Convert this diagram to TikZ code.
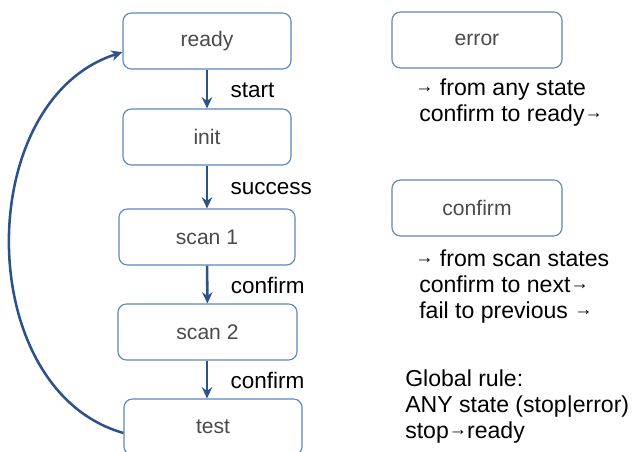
\documentclass[tikz,border=0pt]{standalone}
\usepackage{fontspec}
\setmainfont{Liberation Sans}
\usepackage{tikz}
\usetikzlibrary{arrows.meta,positioning}
\definecolor{statedraw}{HTML}{5B88BD}
\definecolor{flowblue}{HTML}{2B5289}
\definecolor{statetext}{HTML}{4A4A4A}
\tikzset{
  state/.style={draw=statedraw, rounded corners=6pt, align=center, fill=white, text=statetext, font=\fontsize{15pt}{18pt}\selectfont, minimum width=4.2cm, minimum height=1.4cm, line width=0.8pt},
  arrow/.style={-{Stealth[length=2.8mm, width=2.6mm]}, line width=1.8pt, draw=flowblue},
  lbl/.style={font=\fontsize{16pt}{19pt}\selectfont, inner sep=0pt, anchor=west, xshift=0.56cm, yshift=-1pt},
  note/.style={font=\fontsize{16.4pt}{18.5pt}\selectfont, align=left, inner sep=0pt, anchor=west}
}
\newcommand{\smallarr}{\raisebox{0.25ex}{\fontsize{13pt}{13pt}\selectfont →}}

\begin{document}
\begin{tikzpicture}[x=0.025cm, y=-0.025cm]
  \clip (0,0) rectangle (633,452);

  \node[state] (ready) at (207,41) {ready};
  \node[state] (init) at (207,137) {init};
  \node[state, minimum width=4.4cm] (scan1) at (207,237) {scan 1};
  \node[state, minimum width=4.475cm] (scan2) at (207.5,332) {scan 2};
  \node[state, minimum width=4.45cm] (test) at (213,427) {test};

  \node[state, minimum width=4.25cm] (error) at (477,40) {error};
  \node[state, minimum width=4.25cm] (confirm) at (477,208) {confirm};

  \node[note] (errorNote) at (415,103) {\smallarr\ from any state\\
    \hspace*{0.1cm}confirm to ready\smallarr};
  \node[note] (confirmNote) at (415,287) {\smallarr\ from scan states\\
    \hspace*{0.1cm}confirm to next\smallarr\\
    \hspace*{0.1cm}fail to previous \smallarr};
  \node[note] (globalNote) at (405,407) {Global rule:\\
    ANY state (stop|error)\\
    stop\smallarr ready};

  \draw[arrow] (ready) -- node[lbl] (lstart) {start} (init);
  \draw[arrow] (init) -- node[lbl] (lsuccess) {success} (scan1);
  \draw[arrow] (scan1) -- node[lbl] (lconfirmA) {confirm} (scan2);
  \draw[arrow] (scan2.south -| scan1.south) -- node[lbl] (lconfirmB) {confirm} (test.north -| scan1.south);
  \draw[arrow] ([yshift=-0.15cm]test.west) .. controls (-28,390) and (-28,100) .. ([yshift=-0.28cm]ready.west);
\end{tikzpicture}
\end{document}
